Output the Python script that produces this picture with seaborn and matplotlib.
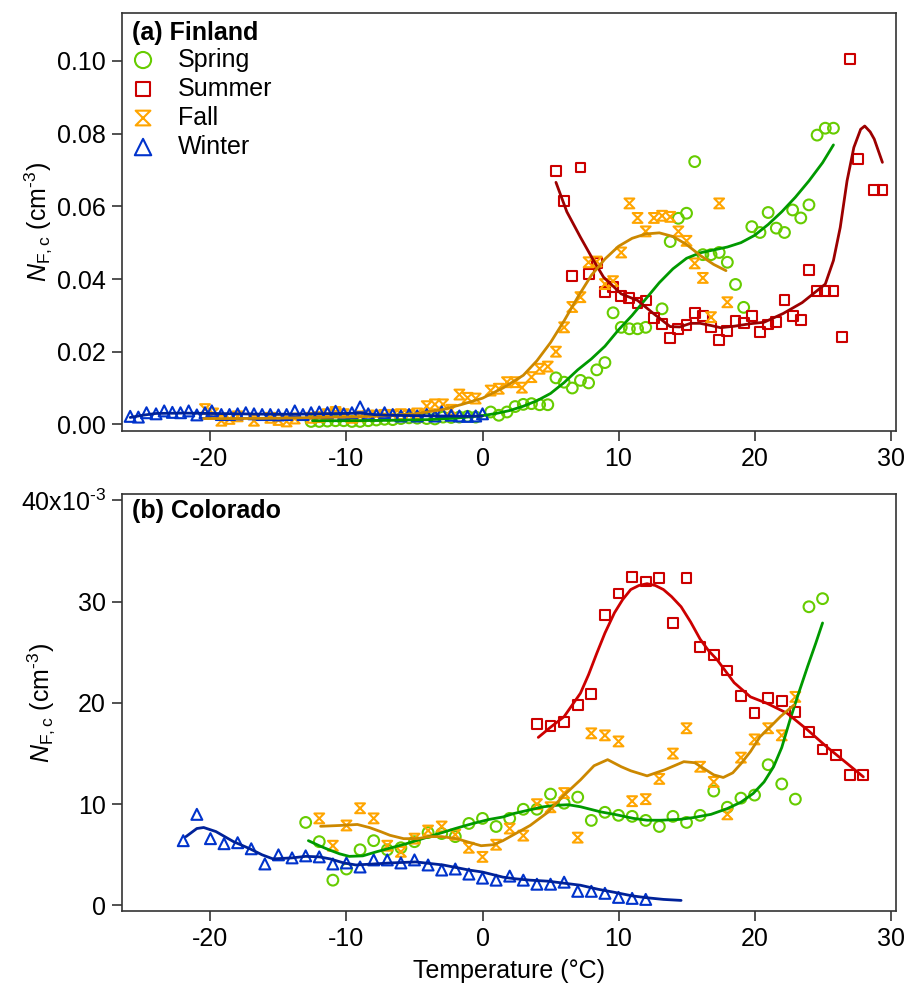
import matplotlib
matplotlib.use("Agg")
import matplotlib.pyplot as plt
import seaborn as sns
from matplotlib.path import Path
from matplotlib.ticker import FixedLocator, FixedFormatter, FormatStrFormatter

# ---------------- Data: (a) Finland ----------------
fin_spring_t = [-12.6, -12.0, -11.4, -10.8, -10.2, -9.6, -9.0, -8.4, -7.8, -7.2, -6.6, -6.0, -5.4, -4.8,
                -4.1, -3.5, -2.9, -2.3, -1.7, -1.1, -0.5, 0.6, 1.2, 1.8, 2.4, 3.0, 3.6, 4.2, 4.8, 5.4,
                6.0, 6.6, 7.2, 7.8, 8.4, 9.0, 9.6, 10.2, 10.8, 11.4, 12.0, 13.2, 13.8, 14.4, 15.0, 15.6,
                16.2, 16.8, 17.4, 18.0, 18.6, 19.2, 19.8, 20.4, 21.0, 21.6, 22.2, 22.8, 23.4, 24.0,
                24.6, 25.2, 25.8]
fin_spring_n = [0.0008, 0.0008, 0.0009, 0.0010, 0.0010, 0.0008, 0.0008, 0.0010, 0.0012, 0.0014, 0.0013,
                0.0016, 0.0018, 0.0017, 0.0016, 0.0015, 0.0020, 0.0019, 0.0020, 0.0022, 0.0020, 0.0034,
                0.0025, 0.0034, 0.0049, 0.0055, 0.0057, 0.0054, 0.0054, 0.0128, 0.0116, 0.0100, 0.0121,
                0.0114, 0.0150, 0.0170, 0.0307, 0.0267, 0.0263, 0.0263, 0.0267, 0.0318, 0.0503, 0.0567,
                0.0581, 0.0723, 0.0467, 0.0467, 0.0473, 0.0446, 0.0385, 0.0322, 0.0544, 0.0528, 0.0583,
                0.0540, 0.0528, 0.0590, 0.0568, 0.0604, 0.0796, 0.0815, 0.0815]

fin_summer_t = [5.4, 6.0, 6.6, 7.2, 7.8, 8.4, 9.0, 9.6, 10.2, 10.8, 11.4, 12.0, 12.6, 13.2, 13.8, 14.4,
                15.0, 15.6, 16.2, 16.8, 17.4, 18.0, 18.6, 19.2, 19.8, 20.4, 21.0, 21.6, 22.2, 22.8, 23.4,
                24.0, 24.6, 25.2, 25.8, 26.4, 27.0, 27.6, 28.8, 29.4]
fin_summer_n = [0.0698, 0.0614, 0.0409, 0.0707, 0.0414, 0.0443, 0.0364, 0.0377, 0.0354, 0.0348, 0.0333,
                0.0341, 0.0293, 0.0277, 0.0238, 0.0263, 0.0274, 0.0306, 0.0299, 0.0267, 0.0233, 0.0258,
                0.0284, 0.0278, 0.0298, 0.0255, 0.0275, 0.0281, 0.0343, 0.0299, 0.0288, 0.0425, 0.0368,
                0.0368, 0.0366, 0.0240, 0.1005, 0.0730, 0.0645, 0.0645]

fin_fall_t = [-20.4, -19.8, -19.2, -18.6, -18.0, -16.8, -15.6, -15.0, -14.4, -13.8, -12.6, -12.0, -11.4,
              -10.8, -10.2, -9.6, -9.0, -8.4, -7.8, -7.2, -6.6, -6.0, -5.4, -4.8, -4.1, -3.5, -2.9, -2.3,
              -1.7, -1.1, -0.5, 0.6, 1.2, 1.8, 2.4, 2.9, 3.6, 4.2, 4.8, 5.4, 6.0, 6.6, 7.2, 7.8, 8.4,
              9.0, 9.6, 10.2, 10.8, 11.4, 12.0, 12.6, 13.2, 13.8, 14.4, 15.0, 15.6, 16.2, 16.8, 17.4, 18.0]
fin_fall_n = [0.0042, 0.0030, 0.0010, 0.0015, 0.0022, 0.0010, 0.0018, 0.0012, 0.0008, 0.0016, 0.0018,
              0.0020, 0.0028, 0.0034, 0.0028, 0.0018, 0.0022, 0.0024, 0.0024, 0.0026, 0.0026, 0.0028,
              0.0026, 0.0030, 0.0050, 0.0055, 0.0055, 0.0040, 0.0082, 0.0073, 0.0071, 0.0093, 0.0098,
              0.0116, 0.0116, 0.0101, 0.0130, 0.0153, 0.0159, 0.0200, 0.0267, 0.0323, 0.0350, 0.0446,
              0.0448, 0.0386, 0.0394, 0.0473, 0.0608, 0.0568, 0.0531, 0.0568, 0.0574, 0.0571, 0.0531,
              0.0505, 0.0443, 0.0403, 0.0295, 0.0608, 0.0336]

fin_winter_t = [-25.9, -25.3, -24.7, -24.0, -23.4, -22.8, -22.2, -21.6, -21.0, -20.4, -19.9, -19.2,
                -18.6, -18.0, -17.4, -16.8, -16.2, -15.6, -15.0, -14.4, -13.8, -13.2, -12.6, -12.0,
                -11.4, -10.8, -10.2, -9.6, -9.0, -8.4, -7.8, -7.2, -6.6, -6.0, -5.4, -4.8, -4.1, -3.5,
                -3.0, -2.3, -1.7, -1.1, -0.5, 0.0]
fin_winter_n = [0.0022, 0.0020, 0.0032, 0.0029, 0.0037, 0.0033, 0.0032, 0.0037, 0.0026, 0.0032, 0.0037,
                0.0027, 0.0027, 0.0029, 0.0032, 0.0029, 0.0027, 0.0027, 0.0026, 0.0027, 0.0037, 0.0027,
                0.0032, 0.0034, 0.0032, 0.0036, 0.0029, 0.0032, 0.0048, 0.0029, 0.0026, 0.0032, 0.0027,
                0.0023, 0.0027, 0.0023, 0.0027, 0.0023, 0.0034, 0.0025, 0.0023, 0.0022, 0.0023, 0.0029]

fin_spring_fit_t = [-12.5, -10, -7, -4, -2, 0, 1, 2, 3, 4, 5, 6, 7, 8, 9, 10, 11, 12, 13, 14, 15, 16,
                    17, 18, 19, 20, 21, 22, 23, 24, 25, 25.8]
fin_spring_fit_n = [0.0010, 0.0010, 0.0011, 0.0013, 0.0017, 0.0024, 0.0030, 0.0038, 0.0050, 0.0065,
                    0.0085, 0.0115, 0.0150, 0.0180, 0.0215, 0.0260, 0.0300, 0.0345, 0.0390, 0.0428,
                    0.0457, 0.0472, 0.0480, 0.0488, 0.0500, 0.0520, 0.0550, 0.0585, 0.0625, 0.0670,
                    0.0720, 0.0769]

fin_summer_fit_t = [5.4, 6.2, 7.2, 8.1, 8.9, 10.2, 11.4, 12.6, 13.8, 14.5, 15.3, 16.0, 16.8, 17.5, 18.5,
                    19.7, 20.7, 22.1, 23.5, 24.5, 25.2, 25.8, 26.3, 26.8, 27.3, 27.8, 28.1, 28.5, 28.8,
                    29.4]
fin_summer_fit_n = [0.0666, 0.0585, 0.0515, 0.0455, 0.0405, 0.0359, 0.0341, 0.0304, 0.0269, 0.0268,
                    0.0278, 0.0278, 0.0272, 0.0266, 0.0270, 0.0277, 0.0281, 0.0305, 0.0335, 0.0365,
                    0.0386, 0.0451, 0.0542, 0.0670, 0.0762, 0.0812, 0.0821, 0.0805, 0.0785, 0.0721]

fin_fall_fit_t = [-20.5, -18, -15, -12, -9, -7, -5, -3, -1.5, 0, 1.5, 3, 4, 5, 6, 7, 8, 9, 10, 11, 12,
                  13, 14, 15, 16, 17, 17.9]
fin_fall_fit_n = [0.0016, 0.0016, 0.0017, 0.0019, 0.0021, 0.0024, 0.0029, 0.0040, 0.0055, 0.0072,
                  0.0100, 0.0135, 0.0175, 0.0225, 0.0285, 0.0350, 0.0410, 0.0455, 0.0490, 0.0512,
                  0.0524, 0.0527, 0.0517, 0.0495, 0.0465, 0.0440, 0.0423]

fin_winter_fit_t = [-25.9, -25.0, -24.0, -22.0, -20.0, -18.0, -16.0, -14.0, -12.0, -10.0, -9.0, -8.0,
                    -7.0, -5.0, -3.0, -1.0, 0.0]
fin_winter_fit_n = [0.0019, 0.0025, 0.0030, 0.0031, 0.0030, 0.0029, 0.0028, 0.0028, 0.0029, 0.0030,
                    0.0031, 0.0027, 0.0025, 0.0024, 0.0023, 0.0022, 0.0023]

# ---------------- Data: (b) Colorado (units of 1e-3 cm^-3) ----------------
col_spring_t = [-13, -12, -11, -10, -9, -8, -7, -6, -5, -4, -3, -2, -1, 0, 1, 2, 3, 4, 5, 6, 7, 8, 9,
                10, 11, 12, 13, 14, 15, 16, 17, 18, 19, 20, 21, 22, 23, 24, 25]
col_spring_n = [8.2, 6.3, 2.5, 3.6, 5.5, 6.4, 5.5, 5.7, 6.3, 7.2, 7.1, 6.8, 8.1, 8.6, 7.8, 8.6, 9.5,
                9.5, 11.0, 10.1, 10.7, 8.4, 9.2, 8.9, 8.8, 8.4, 7.8, 8.8, 8.2, 8.9, 11.3, 9.7, 10.6,
                10.9, 13.9, 12.0, 10.5, 29.5, 30.3]

col_summer_t = [4, 5, 6, 7, 8, 9, 10, 11, 12, 13, 14, 15, 16, 17, 18, 19, 20, 21, 22, 23, 24, 25, 26,
                27, 28]
col_summer_n = [17.9, 17.7, 18.1, 19.8, 20.9, 28.7, 30.8, 32.4, 32.0, 32.3, 27.9, 32.3, 25.5, 24.7,
                23.2, 20.7, 19.0, 20.5, 20.2, 19.1, 17.1, 15.4, 14.9, 12.9, 12.9]

col_fall_t = [-12, -11, -10, -9, -8, -7, -6, -5, -4, -3, -2, -1, 0, 1, 2, 3, 4, 5, 6, 7, 8, 9, 10,
              11, 12, 13, 14, 15, 16, 17, 18, 19, 20, 21, 22, 23]
col_fall_n = [8.6, 5.9, 7.9, 9.6, 8.6, 5.9, 5.3, 6.6, 7.4, 7.8, 7.0, 5.7, 4.8, 6.0, 7.6, 6.9, 10.0,
              9.7, 11.1, 6.7, 17.0, 16.8, 16.2, 10.3, 10.5, 12.5, 15.0, 17.5, 13.7, 12.2, 9.0, 14.6,
              16.4, 17.5, 16.8, 20.6]

col_winter_t = [-22, -21, -20, -19, -18, -17, -16, -15, -14, -13, -12, -11, -10, -9, -8, -7, -6, -5,
                -4, -3, -2, -1, 0, 1, 2, 3, 4, 5, 6, 7, 8, 9, 10, 11, 12]
col_winter_n = [6.4, 9.0, 6.6, 6.1, 6.2, 5.6, 4.1, 5.0, 4.7, 4.9, 4.8, 4.1, 4.2, 3.8, 4.5, 4.5, 4.2,
                4.5, 4.0, 3.5, 3.6, 3.1, 2.7, 2.5, 2.9, 2.5, 2.1, 2.1, 2.3, 1.4, 1.4, 1.2, 0.8, 0.7, 0.6]

col_spring_fit_t = [-12.8, -12, -11.2, -10.5, -9.8, -8.8, -7.8, -6.7, -5.6, -4.4, -3.2, -2, -0.7, 0.5,
                    1.5, 2.3, 3.5, 4.5, 5.5, 6.3, 7.2, 8.7, 9.7, 11.1, 12.1, 13.1, 14.5, 15.5, 16.8,
                    18, 19, 19.9, 20.7, 21.4, 22, 22.6, 23.2, 23.9, 24.5, 25.0]
col_spring_fit_n = [6.4, 5.9, 5.45, 5.1, 4.85, 4.9, 5.3, 5.7, 6.1, 6.6, 7.1, 7.6, 8.1, 8.5, 8.74,
                    9.08, 9.45, 9.75, 9.9, 9.95, 9.75, 9.24, 9.0, 8.6, 8.42, 8.42, 8.5, 8.68, 9.0,
                    9.57, 10.2, 11.06, 12.2, 13.7, 15.6, 18.3, 20.8, 23.6, 25.9, 27.9]

col_summer_fit_t = [4.1, 5, 6, 7.2, 7.8, 8.4, 9.0, 9.7, 10.3, 10.9, 11.5, 12.1, 12.7, 13.3, 13.9, 14.6,
                    15.3, 16.0, 16.6, 17.25, 18.5, 19.7, 20.9, 22.4, 23.9, 25.3, 26.8, 28.0]
col_summer_fit_n = [16.6, 17.6, 18.65, 20.96, 22.8, 24.9, 26.9, 28.9, 30.2, 31.2, 31.6, 31.78, 31.6,
                    31.2, 30.5, 29.5, 28.0, 26.3, 25.2, 24.26, 22.0, 20.6, 19.97, 18.98, 17.33, 15.67,
                    14.03, 12.7]

col_fall_fit_t = [-11.9, -10.5, -9.2, -8.3, -7.5, -6.8, -5.8, -4.8, -3.9, -3, -1.9, -0.9, -0.1, 0.8,
                  1.5, 2.3, 3.5, 4.8, 6, 7.2, 8.2, 9.2, 10.2, 10.9, 12.1, 13.4, 14.8, 15.6, 16.3, 17.0,
                  17.7, 18.4, 19.0, 19.7, 20.4, 21.2, 21.9, 22.9]
col_fall_fit_n = [7.82, 7.9, 8.0, 7.69, 7.3, 6.93, 6.6, 6.6, 6.8, 6.8, 6.6, 6.2, 5.9, 6.0, 6.4, 7.0,
                  7.9, 9.2, 10.9, 12.4, 13.8, 14.4, 13.7, 13.3, 12.8, 13.4, 14.2, 14.1, 13.5, 12.9,
                  12.64, 13.1, 14.0, 15.2, 16.66, 17.7, 18.65, 19.8]

col_winter_fit_t = [-21.8, -21.0, -20.5, -19.6, -18.3, -17.1, -16.2, -15.4, -14, -13, -12, -11.2,
                    -10.2, -9.3, -8, -6.8, -4.9, -2.9, -1, 0, 1.5, 2.3, 3.5, 4.8, 6, 7.2, 8.5, 9.7,
                    11, 12.1, 13.3, 14.6]
col_winter_fit_n = [6.8, 7.6, 7.7, 7.3, 6.3, 5.6, 5.0, 4.6, 4.7, 4.85, 4.8, 4.6, 4.2, 4.0, 4.1, 4.2,
                    4.3, 4.0, 3.5, 3.3, 2.8, 2.65, 2.5, 2.4, 2.2, 2.0, 1.6, 1.3, 0.95, 0.76, 0.6, 0.5]

season_labels = ["Spring", "Summer", "Fall", "Winter"]
x_ticks = [-20, -10, 0, 10, 20, 30]
fin_y_ticks = [0.00, 0.02, 0.04, 0.06, 0.08, 0.10]
col_y_ticks = [0, 10, 20, 30, 40]
col_y_ticklabels = ["0", "10", "20", "30", r"40x10$^{\text{-3}}$"]

# ---------------- Style ----------------
sns.set_style("ticks")
plt.rcParams["font.family"] = ["Liberation Sans", "DejaVu Sans"]
plt.rcParams["mathtext.fontset"] = "custom"
plt.rcParams["mathtext.rm"] = "Liberation Sans"
plt.rcParams["mathtext.it"] = "Liberation Sans:italic"
plt.rcParams["mathtext.bf"] = "Liberation Sans:bold"
plt.rcParams["axes.unicode_minus"] = False
plt.rcParams["text.color"] = "black"
plt.rcParams["axes.labelcolor"] = "black"
plt.rcParams["xtick.color"] = "black"
plt.rcParams["ytick.color"] = "black"

FS = 18
hourglass = Path([(-1, 1), (1, 1), (-1, -1), (1, -1), (-1, 1)],
                 [Path.MOVETO, Path.LINETO, Path.LINETO, Path.LINETO, Path.CLOSEPOLY])

mk = {"Spring": ("o", 60), "Summer": ("s", 50), "Fall": (hourglass, 50), "Winter": ("^", 62)}
mcol = {"Spring": "#66cc00", "Summer": "#cc0000", "Fall": "#ffa500", "Winter": "#0033cc"}

fig = plt.figure(figsize=(9.08, 9.83), dpi=100)
ax_a = fig.add_axes([0.1344, 0.5618, 0.8524, 0.4246])
ax_b = fig.add_axes([0.1344, 0.0732, 0.8524, 0.4239])


def draw_points(ax, t, n, season):
    marker, size = mk[season]
    sns.scatterplot(x=t, y=n, ax=ax, marker=marker, s=size, facecolor="none",
                    edgecolor=mcol[season], linewidth=1.5, legend=False, zorder=2)
    return ax.collections[-1]


def draw_fit(ax, t, n, color):
    sns.lineplot(x=t, y=n, ax=ax, color=color, linewidth=2.0, estimator=None, sort=False, zorder=3)


# Panel (a)
handles = []
handles.append(draw_points(ax_a, fin_spring_t, fin_spring_n, "Spring"))
handles.append(draw_points(ax_a, fin_summer_t, fin_summer_n, "Summer"))
handles.append(draw_points(ax_a, fin_fall_t, fin_fall_n, "Fall"))
handles.append(draw_points(ax_a, fin_winter_t, fin_winter_n, "Winter"))
draw_fit(ax_a, fin_spring_fit_t, fin_spring_fit_n, "#009900")
draw_fit(ax_a, fin_summer_fit_t, fin_summer_fit_n, "#9c0000")
draw_fit(ax_a, fin_fall_fit_t, fin_fall_fit_n, "#cc8800")
draw_fit(ax_a, fin_winter_fit_t, fin_winter_fit_n, "#002299")

# Panel (b)
draw_points(ax_b, col_spring_t, col_spring_n, "Spring")
draw_points(ax_b, col_summer_t, col_summer_n, "Summer")
draw_points(ax_b, col_fall_t, col_fall_n, "Fall")
draw_points(ax_b, col_winter_t, col_winter_n, "Winter")
draw_fit(ax_b, col_spring_fit_t, col_spring_fit_n, "#009900")
draw_fit(ax_b, col_summer_fit_t, col_summer_fit_n, "#cc0000")
draw_fit(ax_b, col_fall_fit_t, col_fall_fit_n, "#cc8800")
draw_fit(ax_b, col_winter_fit_t, col_winter_fit_n, "#002299")

ylab = r"$N_{\mathrm{F,c}}$ (cm$^{\text{-3}}$)"
for ax in (ax_a, ax_b):
    ax.set_xlim(-26.5, 30.4)
    ax.xaxis.set_major_locator(FixedLocator(x_ticks))
    ax.tick_params(axis="both", direction="out", length=7.5, width=1.1, labelsize=FS,
                   color="#222222", labelcolor="black", pad=4)
    for sp in ax.spines.values():
        sp.set_color("#333333")
        sp.set_linewidth(1.2)
    ax.set_ylabel(ylab, fontsize=FS)
    ax.set_xlabel("")

ax_a.set_ylim(-0.00176, 0.1131)
ax_a.yaxis.set_major_locator(FixedLocator(fin_y_ticks))
ax_a.yaxis.set_major_formatter(FormatStrFormatter("%.2f"))
ax_a.yaxis.set_label_coords(-0.088, 0.5)

ax_b.set_ylim(-0.55, 40.6)
ax_b.yaxis.set_major_locator(FixedLocator(col_y_ticks))
ax_b.yaxis.set_major_formatter(FixedFormatter(col_y_ticklabels))
ax_b.yaxis.set_label_coords(-0.084, 0.5)
ax_b.set_xlabel("Temperature (°C)", fontsize=FS, labelpad=6)

ax_a.text(0.013, 0.953, "(a) Finland", transform=ax_a.transAxes, fontsize=FS,
          fontweight="bold", ha="left", va="center")
ax_b.text(0.013, 0.960, "(b) Colorado", transform=ax_b.transAxes, fontsize=FS,
          fontweight="bold", ha="left", va="center")

ax_a.legend(handles, season_labels, loc="upper left", bbox_to_anchor=(0.0126, 0.918),
            frameon=False, fontsize=FS, borderpad=0, borderaxespad=0, handlelength=0.9,
            handletextpad=0.95, labelspacing=0.2, scatterpoints=1, markerscale=1.5)

fig.savefig("out.png", dpi=100)
